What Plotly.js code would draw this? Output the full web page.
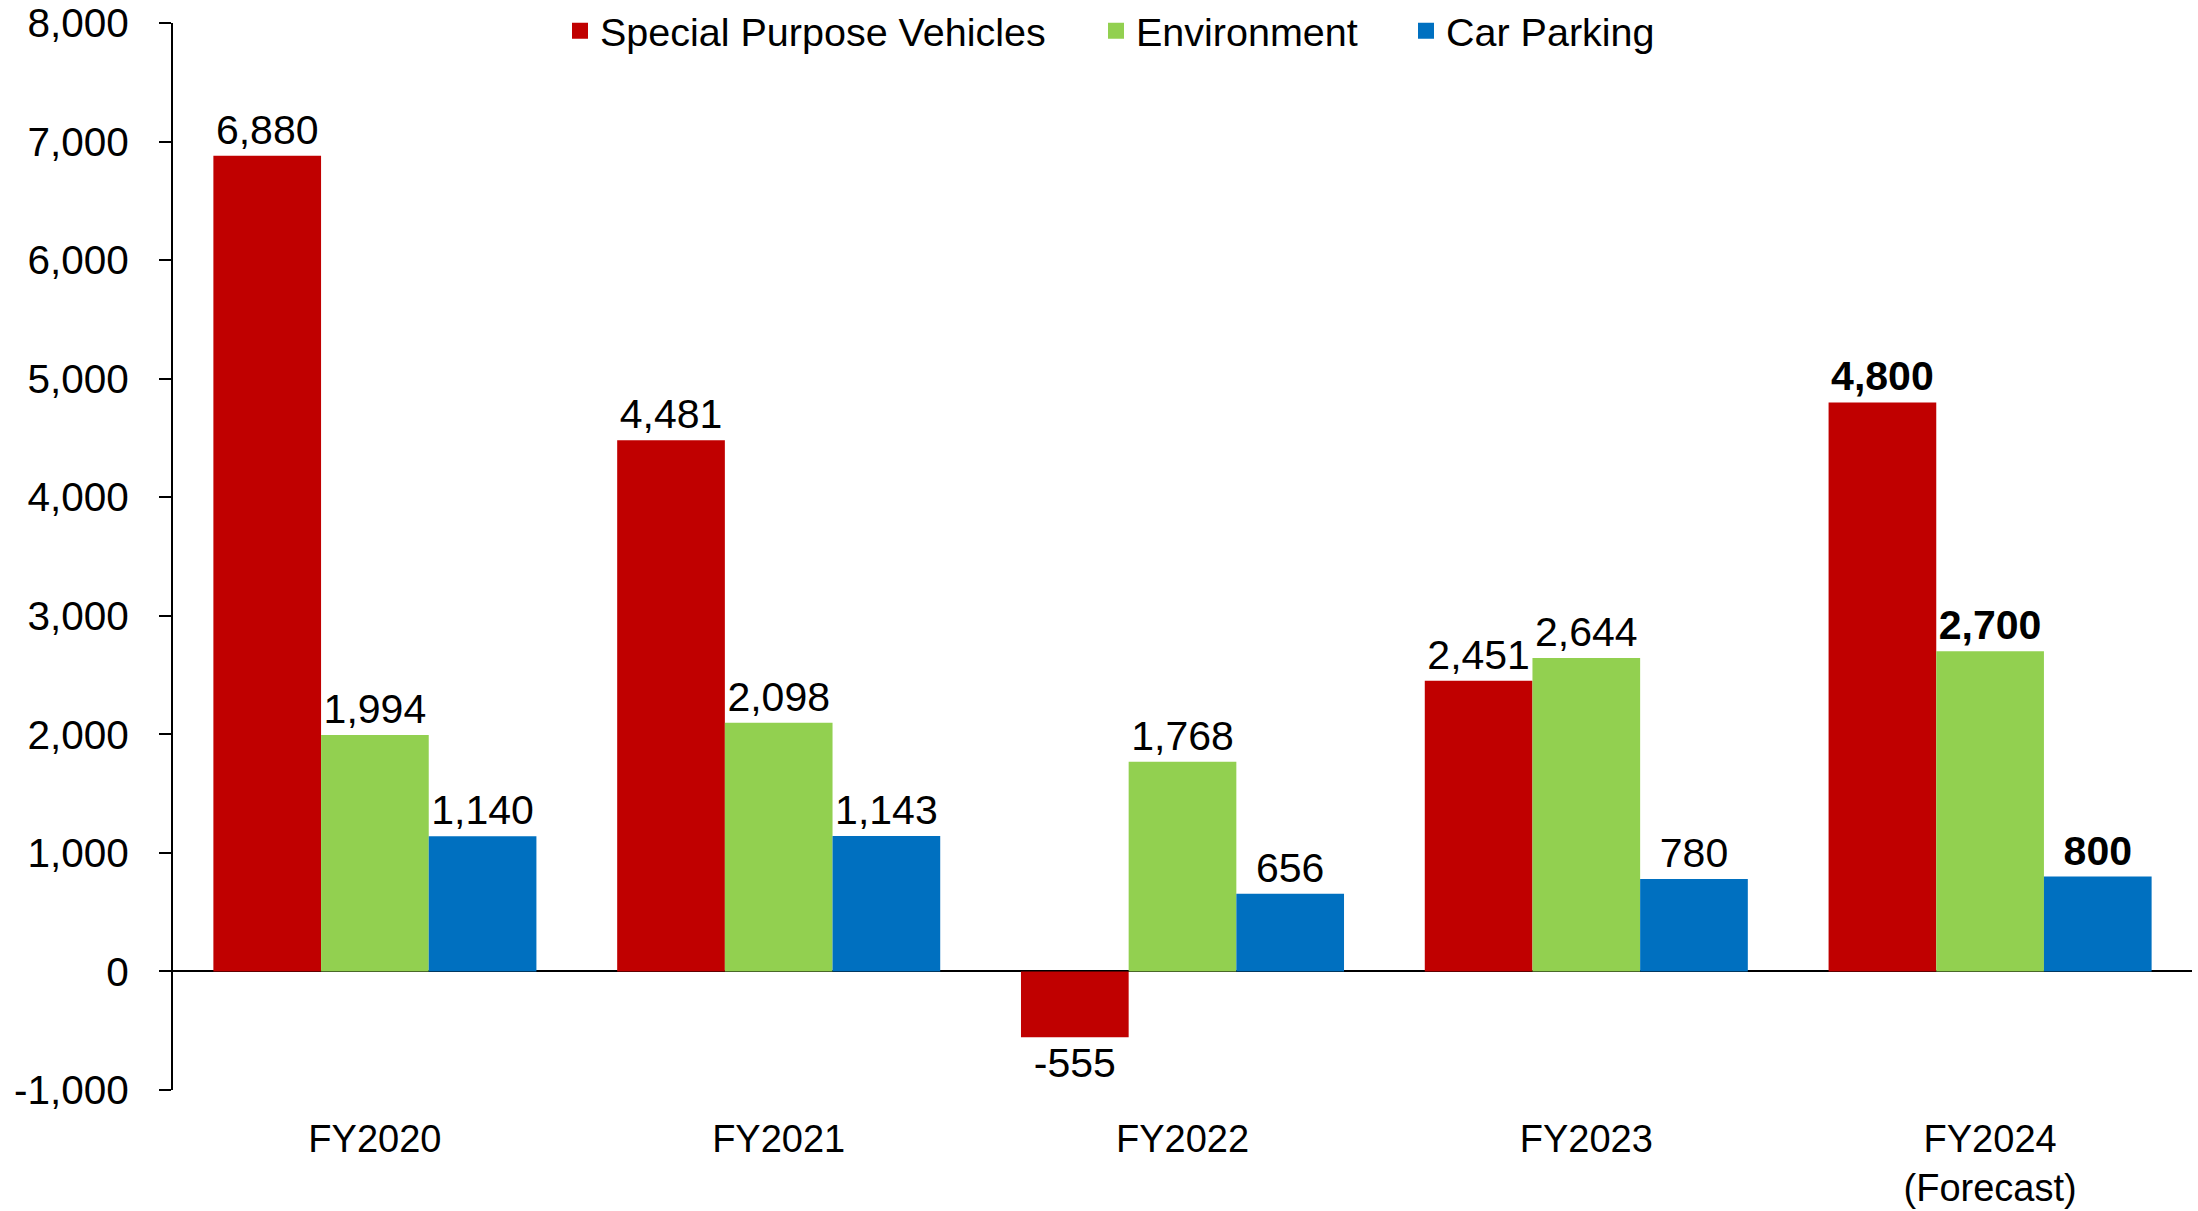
<!DOCTYPE html>
<html>
<head>
<meta charset="utf-8">
<script src="https://cdn.plot.ly/plotly-3.0.1.min.js"></script>
<style>html,body{margin:0;padding:0;background:#fff;}#chart{width:2198px;height:1211px;}</style>
</head>
<body>
<div id="chart"></div>
<script>
const categories = ["FY2020", "FY2021", "FY2022", "FY2023", "FY2024<br>(Forecast)"];
const seriesNames = ["Special Purpose Vehicles", "Environment", "Car Parking"];
const specialPurposeVehicles = [6880, 4481, -555, 2451, 4800];
const environment = [1994, 2098, 1768, 2644, 2700];
const carParking = [1140, 1143, 656, 780, 800];
const yTickVals = [-1000, 0, 1000, 2000, 3000, 4000, 5000, 6000, 7000, 8000];
const yTickText = ["-1,000", "0", "1,000", "2,000", "3,000", "4,000", "5,000", "6,000", "7,000", "8,000"];
const forecastIndex = 4;
const colors = ['#C00000', '#92D050', '#0070C0'];

function labels(arr) {
  return arr.map((v, i) => {
    const s = v.toLocaleString('en-US');
    return i === forecastIndex ? '<b>' + s + '</b>' : s;
  });
}

const font = "Liberation Sans, Arial, sans-serif";

function mkBar(idx, vals) {
  return {
    type: 'bar', name: seriesNames[idx], x: categories, y: vals,
    marker: {color: colors[idx]},
    text: labels(vals), textposition: 'outside',
    textfont: {size: 41, color: '#000', family: font},
    constraintext: 'none', cliponaxis: false,
    showlegend: false, hoverinfo: 'skip'
  };
}
// legend-only entries (square keys like the reference), no visible marks
function mkKey(idx, legendId) {
  return {
    type: 'scatter', mode: 'markers', name: seriesNames[idx],
    x: [categories[0]], y: [null],
    marker: {symbol: 'square', size: 20, color: colors[idx]},
    legend: legendId, showlegend: true, hoverinfo: 'skip'
  };
}

const data = [
  mkBar(0, specialPurposeVehicles),
  mkBar(1, environment),
  mkBar(2, carParking),
  mkKey(0, 'legend'), mkKey(1, 'legend2'), mkKey(2, 'legend3')
];

const legBase = {orientation: 'h', yanchor: 'middle', y: 0.9925, xanchor: 'left',
  font: {size: 39.5, family: font, color: '#000'}, bgcolor: 'rgba(0,0,0,0)', borderwidth: 0, itemclick: false, itemdoubleclick: false};

const layout = {
  width: 2198, height: 1211,
  margin: {l: 173, r: 6, t: 23, b: 121, autoexpand: false},
  paper_bgcolor: '#fff', plot_bgcolor: '#fff',
  font: {family: font, color: '#000'},
  barmode: 'group', bargap: 0.2, bargroupgap: 0,
  showlegend: true,
  legend: Object.assign({}, legBase, {x: (560 - 173) / 2019}),
  legend2: Object.assign({}, legBase, {x: (1096 - 173) / 2019}),
  legend3: Object.assign({}, legBase, {x: (1406 - 173) / 2019}),
  xaxis: {
    showline: false, showgrid: false, zeroline: false, ticks: '',
    tickfont: {size: 38, family: font, color: '#000'},
    ticklabelstandoff: 23, fixedrange: true, automargin: false
  },
  yaxis: {
    range: [-1000, 8000], tickvals: yTickVals, ticktext: yTickText,
    showline: true, linecolor: '#000', linewidth: 2,
    ticks: 'outside', ticklen: 12, tickwidth: 2, tickcolor: '#000',
    showgrid: false, zeroline: true, zerolinecolor: '#000', zerolinewidth: 2,
    tickfont: {size: 40.5, family: font, color: '#000'},
    ticklabelstandoff: 22, fixedrange: true, automargin: false
  }
};

Plotly.newPlot('chart', data, layout, {displayModeBar: false, staticPlot: true});
</script>
</body>
</html>
